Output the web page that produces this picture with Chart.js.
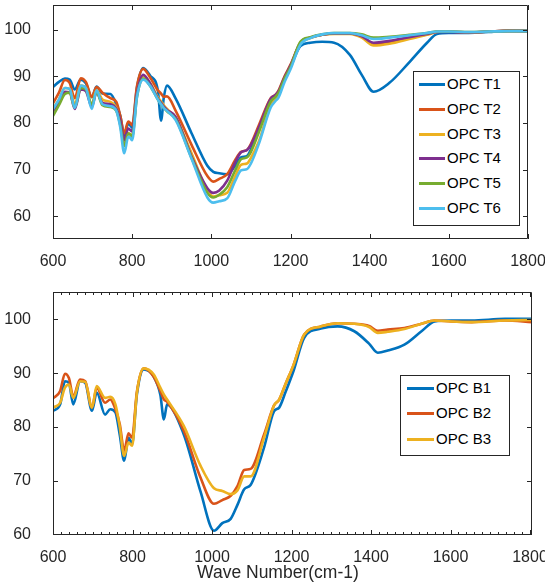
<!DOCTYPE html>
<html>
<head>
<meta charset="utf-8">
<script src="https://cdn.jsdelivr.net/npm/chart.js@4.4.0/dist/chart.umd.min.js"></script>
<style>
  html, body { margin: 0; padding: 0; background: #fff; }
  body { width: 545px; height: 586px; position: relative; overflow: hidden; font-family: "Liberation Sans", Arial, sans-serif; }
  canvas { position: absolute; left: 0; }
  #topChart { top: 0; }
  #botChart { top: 285px; }
  .legend { position: absolute; border: 1px solid #262626; background: #fff; box-sizing: border-box; }
  .legend .row { position: absolute; left: 0; height: 20px; }
  .legend .swatch { position: absolute; top: 9px; height: 3px; }
  .legend .txt { position: absolute; top: 1px; font-size: 15px; color: #000; white-space: nowrap; line-height: 18px; }
</style>
</head>
<body>
<canvas id="topChart" width="545" height="272"></canvas>
<canvas id="botChart" width="545" height="301"></canvas>
<div class="legend" id="topLegend" style="left:413px; top:71px; width:107px; height:155px;"></div>
<div class="legend" id="botLegend" style="left:400px; top:375px; width:110px; height:81px;"></div>

<script>
// ---- tick labels ----
const xTicks = [600, 800, 1000, 1200, 1400, 1600, 1800];
const yTicks = [60, 70, 80, 90, 100];

// ---- top panel: OPC T1..T6 ----
const topLabels = ['OPC T1', 'OPC T2', 'OPC T3', 'OPC T4', 'OPC T5', 'OPC T6'];
const topWave = [600, 615, 630, 642, 655, 670, 683, 698, 710, 725, 745, 760, 770, 780, 790, 795, 800, 812, 828, 845,
  865, 873, 880, 888, 910, 950, 990, 1005, 1020, 1040, 1060, 1075, 1090, 1100, 1120, 1150, 1162, 1170, 1185, 1200,
  1225, 1250, 1280, 1310, 1350, 1380, 1410, 1450, 1500, 1545, 1570, 1600, 1650, 1700, 1750, 1800];
const t1 = [87.7, 88.8, 89.5, 89.3, 87.2, 89.3, 88.5, 85.5, 87.8, 86.3, 86.2, 84.0, 81.5, 77.3, 79.9, 79.5, 79.0, 87.5, 91.8, 90.2,
  86.9, 80.5, 85.5, 88.0, 85.2, 77.8, 70.8, 69.5, 69.2, 69.0, 70.8, 72.6, 72.9, 74.3, 78.5, 84.7, 85.8, 86.5, 89.6, 92.0,
  96.5, 97.2, 97.4, 97.2, 94.6, 90.3, 86.7, 88.6, 93.0, 97.2, 99.1, 99.3, 99.3, 99.5, 99.8, 99.8];
const t2 = [84.2, 86.5, 89.2, 88.6, 85.3, 89.6, 88.8, 85.6, 87.7, 86.5, 85.3, 84.5, 81.5, 77.8, 80.3, 80.0, 79.5, 87.8, 91.6, 89.8,
  87.0, 86.3, 85.6, 85.7, 82.6, 75.3, 68.6, 67.4, 68.0, 69.0, 72.0, 73.8, 74.2, 75.5, 79.5, 85.3, 86.0, 87.0, 90.0, 92.5,
  97.2, 98.3, 98.9, 99.2, 99.2, 98.5, 96.8, 97.3, 98.3, 99.0, 99.6, 99.6, 99.4, 99.6, 99.8, 99.7];
const t3 = [83.0, 85.0, 87.5, 87.3, 84.0, 88.0, 87.5, 84.0, 87.0, 85.0, 84.5, 83.2, 80.0, 75.2, 77.8, 77.6, 77.2, 86.0, 90.0, 88.6,
  85.5, 84.6, 83.8, 83.0, 81.0, 73.5, 65.5, 64.2, 64.5, 65.0, 68.5, 71.0, 71.3, 72.5, 76.0, 83.8, 85.0, 86.0, 89.3, 92.0,
  97.0, 98.2, 98.9, 99.1, 99.1, 98.3, 96.6, 97.0, 98.0, 98.9, 99.5, 99.6, 99.4, 99.6, 99.7, 99.7];
const t4 = [82.5, 84.5, 86.7, 86.6, 83.0, 87.2, 86.8, 83.5, 86.5, 84.3, 84.0, 83.0, 80.5, 76.3, 78.8, 78.5, 78.2, 86.3, 90.3, 88.5,
  85.2, 84.3, 83.5, 82.8, 81.3, 72.8, 66.0, 65.0, 65.5, 67.6, 71.5, 73.7, 74.2, 75.3, 79.0, 85.2, 86.0, 86.8, 89.8, 92.3,
  97.2, 98.3, 98.9, 99.2, 99.2, 98.6, 97.2, 97.6, 98.4, 99.1, 99.5, 99.5, 99.4, 99.6, 99.7, 99.7];
const t5 = [81.5, 83.8, 86.2, 86.5, 83.3, 87.5, 87.2, 84.0, 86.6, 83.8, 83.4, 82.6, 79.5, 75.0, 77.7, 77.5, 77.0, 85.5, 89.5, 88.0,
  85.0, 84.0, 83.2, 82.5, 80.8, 72.5, 65.0, 64.0, 64.6, 66.2, 69.8, 72.2, 72.6, 73.8, 78.0, 84.6, 85.6, 86.5, 89.5, 92.0,
  97.4, 98.4, 99.0, 99.3, 99.3, 99.0, 98.3, 98.5, 98.9, 99.3, 99.6, 99.6, 99.5, 99.6, 99.7, 99.7];
const t6 = [83.0, 85.0, 87.5, 87.3, 83.2, 88.0, 87.5, 83.0, 87.0, 84.0, 83.6, 82.6, 79.0, 73.5, 77.0, 76.8, 76.3, 85.5, 89.3, 88.0,
  85.0, 84.0, 83.2, 82.6, 80.6, 72.3, 64.0, 62.9, 63.2, 63.8, 67.5, 69.8, 70.1, 71.3, 75.5, 83.3, 84.7, 85.5, 88.8, 91.5,
  96.8, 98.2, 99.0, 99.3, 99.3, 98.8, 98.0, 98.3, 98.8, 99.3, 99.6, 99.6, 99.5, 99.6, 99.7, 99.7];

// ---- bottom panel: OPC B1..B3 ----
const botLabels = ['OPC B1', 'OPC B2', 'OPC B3'];
const botWave = [600, 618, 630, 640, 651, 668, 681, 698, 710, 731, 744, 757, 768, 779, 790, 799, 811, 828, 853, 870,
  879, 887, 929, 971, 1005, 1026, 1047, 1064, 1081, 1097, 1131, 1156, 1169, 1185, 1205, 1232, 1274, 1316, 1358, 1395,
  1417, 1442, 1484, 1527, 1560, 1602, 1653, 1737, 1805];
const b1 = [83.0, 84.2, 88.5, 88.2, 84.2, 88.5, 88.2, 83.0, 86.4, 82.3, 83.3, 82.7, 78.5, 73.7, 78.0, 76.8, 86.0, 90.7, 89.4, 86.0,
  81.4, 84.2, 78.6, 68.0, 60.7, 62.1, 62.9, 65.5, 68.4, 69.2, 76.2, 82.9, 83.6, 86.5, 90.4, 96.6, 98.3, 98.7, 97.8, 95.5,
  93.8, 94.2, 95.3, 97.8, 99.6, 99.8, 99.8, 100.1, 100.1];
const b2 = [85.3, 86.7, 89.9, 89.1, 85.7, 88.8, 88.5, 83.6, 87.3, 84.5, 85.1, 83.3, 80.5, 75.6, 78.8, 78.0, 86.5, 90.9, 89.4, 86.7,
  85.1, 84.7, 79.3, 70.6, 65.7, 66.4, 67.2, 69.0, 72.0, 72.2, 78.6, 84.0, 85.1, 88.0, 91.5, 97.2, 98.7, 99.3, 99.2, 98.8,
  97.9, 98.1, 98.4, 99.2, 99.8, 99.6, 99.5, 99.8, 99.5];
const b3 = [83.6, 84.5, 87.3, 87.9, 85.4, 88.5, 88.4, 83.6, 87.6, 85.4, 85.6, 84.2, 80.0, 74.6, 77.1, 76.5, 86.3, 90.9, 89.8, 87.3,
  86.0, 85.1, 80.2, 72.8, 68.6, 68.1, 67.5, 68.2, 70.8, 70.8, 78.0, 84.0, 85.1, 88.0, 91.5, 97.2, 98.7, 99.3, 99.2, 98.6,
  97.5, 97.7, 98.2, 99.2, 99.8, 99.6, 99.5, 99.8, 99.9];

// MATLAB default line colours
const colors = ['#0072BD', '#D95319', '#EDB120', '#7E2F8E', '#77AC30', '#4DBEEE'];
const axisColor = '#262626';
const fontFamily = '"Liberation Sans", Arial, sans-serif';

function makeDatasets(labels, wave, series) {
    return series.map((vals, i) => ({
        label: labels[i],
        data: vals.map((v, k) => ({ x: wave[k], y: v })),
        borderColor: colors[i],
        backgroundColor: colors[i],
        borderWidth: 2.6,
        pointRadius: 0,
        cubicInterpolationMode: 'monotone',
        order: series.length - i   // later series drawn on top, like MATLAB
    }));
}

/* ===========================================================
   BOX + INWARD TICKS (matlab style axes)
=========================================================== */
const boxTicks = {
    id: 'boxTicks',
    afterDatasetsDraw(chart, args, opts) {
        const { ctx, chartArea: a, scales: { x, y } } = chart;
        ctx.save();
        ctx.strokeStyle = axisColor;
        ctx.lineWidth = 1;
        ctx.beginPath();
        ctx.rect(a.left + 0.5, a.top + 0.5, a.right - a.left - 1, a.bottom - a.top - 1);

        const major = 5, minor = 3;
        x.ticks.forEach(t => {
            const px = Math.round(x.getPixelForValue(t.value)) + 0.5;
            ctx.moveTo(px, a.bottom); ctx.lineTo(px, a.bottom - major);
            ctx.moveTo(px, a.top); ctx.lineTo(px, a.top + major);
        });
        y.ticks.forEach(t => {
            const py = Math.round(y.getPixelForValue(t.value)) + 0.5;
            ctx.moveTo(a.left, py); ctx.lineTo(a.left + major, py);
            ctx.moveTo(a.right, py); ctx.lineTo(a.right - major, py);
        });
        if (opts.minorStep) {
            for (let v = x.min; v <= x.max; v += opts.minorStep) {
                if (xTicks.includes(v)) continue;
                const px = Math.round(x.getPixelForValue(v)) + 0.5;
                ctx.moveTo(px, a.bottom); ctx.lineTo(px, a.bottom - minor);
                ctx.moveTo(px, a.top); ctx.lineTo(px, a.top + minor);
            }
        }
        ctx.stroke();
        ctx.restore();
    }
};

function buildChart(canvasId, datasets, cfg) {
    const tickFont = { family: fontFamily, size: 16 };
    return new Chart(document.getElementById(canvasId), {
        type: 'line',
        data: { datasets },
        options: {
            responsive: false,
            animation: false,
            layout: { padding: cfg.padding },
            plugins: { legend: { display: false }, tooltip: { enabled: false }, boxTicks: { minorStep: cfg.minorStep || 0 } },
            scales: {
                x: {
                    type: 'linear',
                    min: cfg.xMin, max: cfg.xMax,
                    afterBuildTicks: s => { s.ticks = xTicks.map(v => ({ value: v })); },
                    afterFit: s => { s.height = cfg.xHeight; s.paddingLeft = 0; s.paddingRight = 0; },
                    grid: { display: false },
                    border: { display: false },
                    ticks: { font: tickFont, color: axisColor, padding: 5, maxRotation: 0, autoSkip: false,
                             callback: v => String(v) },
                    title: cfg.xTitle ? {
                        display: true, text: cfg.xTitle, color: axisColor,
                        font: { family: fontFamily, size: 17.5 },
                        padding: { top: 0, bottom: 2 }
                    } : { display: false }
                },
                y: {
                    type: 'linear',
                    min: cfg.yMin, max: cfg.yMax,
                    afterBuildTicks: s => { s.ticks = yTicks.map(v => ({ value: v })); },
                    afterFit: s => { s.width = 53; s.paddingTop = 0; s.paddingBottom = 0; },
                    grid: { display: false },
                    border: { display: false },
                    ticks: { font: tickFont, color: axisColor, padding: 14, callback: v => String(v) }
                }
            }
        },
        plugins: [boxTicks]
    });
}

function buildLegend(elId, labels, rowTops, lineX, textX) {
    const el = document.getElementById(elId);
    el.innerHTML = labels.map((lab, i) => `
        <div class="row" style="top:${rowTops[i]}px;">
            <div class="swatch" style="left:${lineX[0]}px; width:${lineX[1] - lineX[0]}px; background:${colors[i]};"></div>
            <div class="txt" style="left:${textX}px;">${lab}</div>
        </div>`).join('');
}

buildChart('topChart', makeDatasets(topLabels, topWave, [t1, t2, t3, t4, t5, t6]), {
    padding: { left: 0, top: 5, right: 17, bottom: 0 },
    xMin: 600, xMax: 1800, yMin: 55.1, yMax: 105.3, xHeight: 33
});

// trailing no-break spaces nudge the centred axis title left, as in the source figure
buildChart('botChart', makeDatasets(botLabels, botWave, [b1, b2, b3]), {
    padding: { left: 0, top: 7, right: 13, bottom: 0 },
    xMin: 600, xMax: 1805, yMin: 59.9, yMax: 105.1, xHeight: 51,
    minorStep: 20, xTitle: 'Wave Number(cm-1)' + '\u00A0'.repeat(6)
});

buildLegend('topLegend', topLabels, [2, 26.7, 51.7, 75.7, 100.7, 125.7], [5, 31], 33);
buildLegend('botLegend', botLabels, [1.5, 26.5, 52.5], [6, 33], 35);
</script>
</body>
</html>
